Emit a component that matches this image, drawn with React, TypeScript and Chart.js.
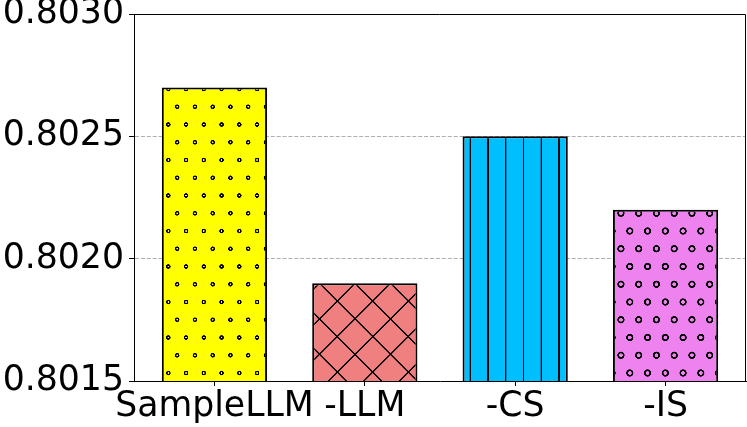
import { useEffect, useRef } from "react";
import { Chart, registerables } from "chart.js";

Chart.register(...registerables);

const categories = ["SampleLLM", "-LLM", "-CS", "-IS"];
const scores = [0.8027, 0.8019, 0.8025, 0.8022];
const barColors = ["#ffff00", "#f08080", "#00bfff", "#ee82ee"];
const hatches = ["dots", "cross", "vlines", "rings"];
const yTicks = [0.8015, 0.802, 0.8025, 0.803];

// hatch period in px, and oversampling of the tile
const P = 17.75;
const S = 4;

function makeHatch(kind: string, color: string): CanvasPattern | string {
    let w = P, h = 2 * P, ox = 168.3, oy = 89;
    if (kind === "cross") { w = 2 * P; h = 2 * P; ox = 355 - P; oy = 283.3 - P; }
    if (kind === "vlines") { w = P; h = P; ox = 168.5 - P / 2; oy = 0; }

    const tile = document.createElement("canvas");
    tile.width = Math.round(w * S);
    tile.height = Math.round(h * S);
    const c = tile.getContext("2d");
    if (!c) return color;
    c.scale(S, S);
    c.fillStyle = color;
    c.fillRect(0, 0, w, h);
    c.strokeStyle = "#000";

    if (kind === "dots" || kind === "rings") {
        const r = kind === "dots" ? 1.55 : 2.75;
        c.lineWidth = kind === "dots" ? 1.5 : 1.7;
        const pts = [[0, 0], [P, 0], [0, 2 * P], [P, 2 * P], [P / 2, P]];
        pts.forEach(([x, y]) => {
            c.beginPath();
            c.arc(x, y, r, 0, Math.PI * 2);
            c.stroke();
        });
    } else if (kind === "vlines") {
        c.lineWidth = 1.4;
        c.beginPath();
        c.moveTo(P / 2, -1);
        c.lineTo(P / 2, h + 1);
        c.stroke();
    } else if (kind === "cross") {
        c.lineWidth = 1.4;
        c.beginPath();
        for (const k of [-w, 0, w]) {
            c.moveTo(-w, -w + k);
            c.lineTo(2 * w, 2 * w + k);
            c.moveTo(-w, 2 * w + k);
            c.lineTo(2 * w, -w + k);
        }
        c.stroke();
    }

    const pattern = c.createPattern(tile, "repeat");
    if (!pattern) return color;
    pattern.setTransform(new DOMMatrix([1 / S, 0, 0, 1 / S, ox, oy]));
    return pattern;
}

const frame = {
    id: "frame",
    afterDraw(chart: any) {
        const { ctx, chartArea } = chart;
        ctx.save();
        ctx.strokeStyle = "#000";
        ctx.lineWidth = 1;
        ctx.beginPath();
        const t = Math.round(chartArea.top) + 0.5;
        const r = Math.round(chartArea.right) - 0.5;
        ctx.moveTo(chartArea.left, t);
        ctx.lineTo(r, t);
        ctx.lineTo(r, chartArea.bottom);
        ctx.stroke();
        ctx.restore();
    },
};

export default function App() {
    const chartRef = useRef<HTMLCanvasElement>(null);

    useEffect(() => {
        if (!chartRef.current) return;
        const font = { family: "'DejaVu Sans'", size: 34.7 };
        const patterns = hatches.map((h, i) => makeHatch(h, barColors[i]));

        const chart = new Chart(chartRef.current, {
            type: "bar",
            data: {
                datasets: [{
                    data: categories.map((_, i) => ({ x: i, y: scores[i] })),
                    backgroundColor: patterns as any,
                    borderColor: "#000",
                    borderWidth: 2,
                    borderSkipped: "start",
                    barPercentage: 0.7,
                    categoryPercentage: 1,
                }],
            },
            options: {
                animation: false,
                responsive: false,
                devicePixelRatio: 1,
                layout: { padding: { left: 0, top: 14, right: 1, bottom: 0 } },
                plugins: {
                    legend: { display: false },
                    tooltip: { enabled: false },
                },
                scales: {
                    x: {
                        type: "linear",
                        min: -0.535,
                        max: 3.535,
                        offset: false,
                        z: 1,
                        afterBuildTicks: (s: any) => { s.ticks = categories.map((_, i) => ({ value: i })); },
                        afterFit: (s: any) => {
                            s.height = 46;
                            s.paddingLeft = 0;
                            s.paddingRight = 0;
                        },
                        ticks: {
                            autoSkip: false,
                            maxRotation: 0,
                            padding: 0,
                            color: "#000",
                            font,
                            callback: (v: any) => categories[v],
                        },
                        grid: { offset: false, drawOnChartArea: false, tickLength: 5, tickColor: "#000", tickWidth: 1 },
                        border: { color: "#000", width: 1 },
                    },
                    y: {
                        min: yTicks[0],
                        max: yTicks[yTicks.length - 1],
                        z: 1,
                        afterBuildTicks: (s: any) => { s.ticks = yTicks.map(v => ({ value: v })); },
                        afterFit: (s: any) => {
                            s.width = 134;
                            s.paddingTop = 0;
                            s.paddingBottom = 0;
                        },
                        ticks: {
                            padding: 5,
                            color: "#000",
                            font,
                            callback: (v: any) => Number(v).toFixed(4),
                        },
                        grid: {
                            color: (ctx: any) =>
                                ctx.index === 0 || ctx.index === yTicks.length - 1 ? "rgba(0,0,0,0)" : "#b0b0b0",
                            lineWidth: 1,
                            tickLength: 5,
                            tickColor: "#000",
                            tickWidth: 1,
                        },
                        border: { color: "#000", width: 1, dash: [4.1, 1.8] },
                    },
                },
            },
            plugins: [frame],
        } as any);

        return () => {
            chart.destroy();
        };
    }, []);

    return (
        <div style={{ position: "fixed", left: 0, top: 0, width: 747, height: 427 }}>
            <canvas ref={chartRef} width={747} height={427}></canvas>
        </div>
    );
}
